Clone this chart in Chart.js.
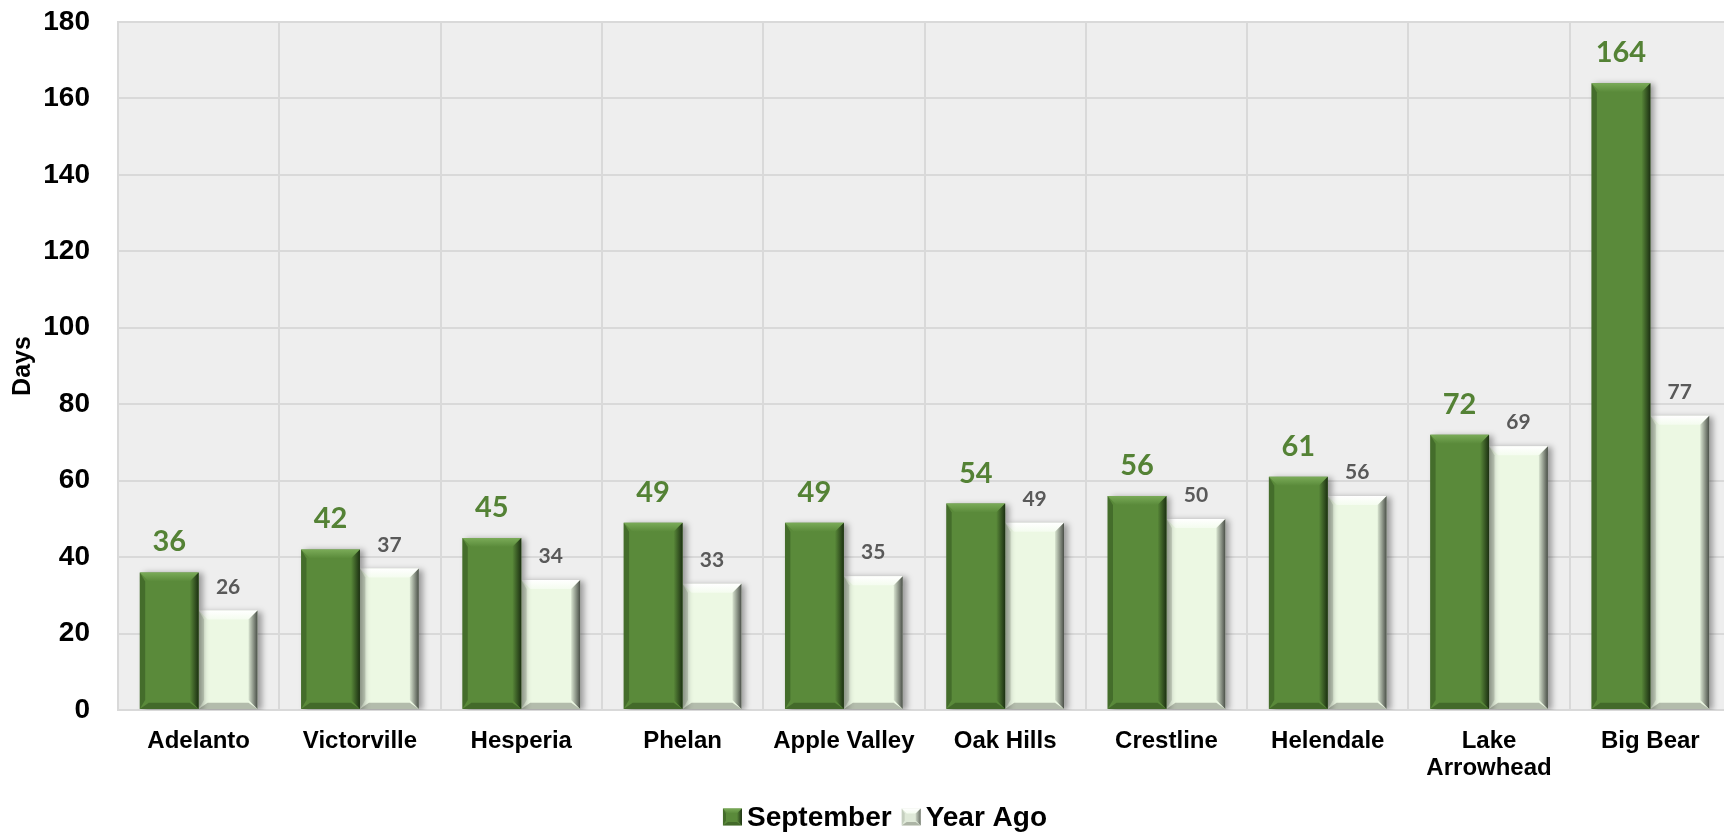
<!DOCTYPE html>
<html>
<head>
<meta charset="utf-8">
<script src="https://cdn.jsdelivr.net/npm/chart.js@4/dist/chart.umd.min.js"></script>
<style>
  html, body { margin: 0; padding: 0; background: #ffffff; overflow: hidden; }
  #wrap { width: 1724px; height: 834px; overflow: hidden; position: relative; }
  canvas { display: block; }
</style>
</head>
<body>
<div id="wrap"><canvas id="daysChart" width="1740" height="834"></canvas></div>
<script>
// Chart data
const towns = ['Adelanto', 'Victorville', 'Hesperia', 'Phelan', 'Apple Valley', 'Oak Hills',
               'Crestline', 'Helendale', ['Lake', 'Arrowhead'], 'Big Bear'];
const september = [36, 42, 45, 49, 49, 54, 56, 61, 72, 164];
const yearAgo = [26, 37, 34, 33, 35, 49, 50, 56, 69, 77];
const seriesNames = ['September', 'Year Ago'];
const yTicks = { min: 0, max: 180, step: 20 };

const axisFont = '"Liberation Sans", Arial, sans-serif';
const labelFont = 'Lato, "Open Sans", sans-serif';

// colours for the bevelled bars
const looks = [
    { base: '#5a8a3a', top: ['#7aab58', '#5a8a3a'], left: 'rgba(30,55,18,0.35)',
      right: ['#5a8a3a', '#1c3012'], bottom: 'rgba(25,45,15,0.35)',
      label: '#548235', labelSize: 29, labelGap: 21 },
    { base: '#ecf8e3', top: ['#ffffff', '#f4fcef'], left: 'rgba(120,130,115,0.25)',
      right: ['#d8e4d0', '#4a4f48'], bottom: 'rgba(110,115,105,0.45)',
      label: '#595959', labelSize: 21, labelGap: 17 }
];

function bevel(ctx, l, t, r, b, look, size) {
    const s = Math.min(size, (r - l) / 2, (b - t) / 2);
    // top
    let g = ctx.createLinearGradient(0, t, 0, t + s);
    g.addColorStop(0, look.top[0]);
    g.addColorStop(1, look.top[1]);
    ctx.fillStyle = g;
    ctx.beginPath();
    ctx.moveTo(l, t); ctx.lineTo(r, t); ctx.lineTo(r - s, t + s); ctx.lineTo(l + s, t + s);
    ctx.closePath(); ctx.fill();
    // left
    ctx.fillStyle = look.left;
    ctx.beginPath();
    ctx.moveTo(l, t); ctx.lineTo(l + s * 0.6, t + s); ctx.lineTo(l + s * 0.6, b - s); ctx.lineTo(l, b);
    ctx.closePath(); ctx.fill();
    // right
    g = ctx.createLinearGradient(r - s, 0, r, 0);
    g.addColorStop(0, look.right[0]);
    g.addColorStop(1, look.right[1]);
    ctx.fillStyle = g;
    ctx.beginPath();
    ctx.moveTo(r, t); ctx.lineTo(r, b); ctx.lineTo(r - s, b - s); ctx.lineTo(r - s, t + s);
    ctx.closePath(); ctx.fill();
    // bottom
    ctx.fillStyle = look.bottom;
    ctx.beginPath();
    ctx.moveTo(l, b); ctx.lineTo(r, b); ctx.lineTo(r - s, b - s * 0.7); ctx.lineTo(l + s, b - s * 0.7);
    ctx.closePath(); ctx.fill();
}

// grey plot background
const plotBackground = {
    id: 'plotBackground',
    beforeDraw(chart) {
        const { ctx, chartArea } = chart;
        ctx.save();
        ctx.fillStyle = '#eeeeee';
        ctx.fillRect(chartArea.left, chartArea.top, chartArea.width, chartArea.height);
        ctx.restore();
    }
};

// soft shadow + bevel on each bar
const bevelBars = {
    id: 'bevelBars',
    beforeDatasetDraw(chart, args) {
        const ctx = chart.ctx;
        ctx.save();
        ctx.shadowColor = 'rgba(0,0,0,0.35)';
        ctx.shadowBlur = 6;
        ctx.shadowOffsetX = 4;
        ctx.shadowOffsetY = 1;
    },
    afterDatasetDraw(chart, args) {
        const ctx = chart.ctx;
        ctx.restore();
        const look = looks[args.index];
        ctx.save();
        args.meta.data.forEach(bar => {
            const l = bar.x - bar.width / 2;
            const r = bar.x + bar.width / 2;
            bevel(ctx, l, bar.y, r, bar.base, look, 9);
        });
        ctx.restore();
    }
};

// value labels above bars
const valueLabels = {
    id: 'valueLabels',
    afterDatasetsDraw(chart) {
        const ctx = chart.ctx;
        ctx.save();
        ctx.textAlign = 'center';
        ctx.textBaseline = 'alphabetic';
        chart.data.datasets.forEach((ds, i) => {
            const look = looks[i];
            ctx.fillStyle = look.label;
            ctx.font = `bold ${look.labelSize}px ${labelFont}`;
            chart.getDatasetMeta(i).data.forEach((bar, j) => {
                ctx.fillText(ds.data[j], bar.x, bar.y - look.labelGap);
            });
        });
        ctx.restore();
    }
};

// legend drawn by hand so it can sit where the original one is
const sideLegend = {
    id: 'sideLegend',
    afterDraw(chart) {
        const ctx = chart.ctx;
        ctx.save();
        ctx.font = `bold 28px ${axisFont}`;
        ctx.textBaseline = 'middle';
        const boxW = 19, boxH = 17, gap = 5, spacing = 10;
        const widths = seriesNames.map(n => boxW + gap + ctx.measureText(n).width);
        const total = widths.reduce((a, b) => a + b, 0) + spacing;
        let x = 885 - total / 2;
        const y = 817;
        seriesNames.forEach((name, i) => {
            const look = looks[i];
            ctx.fillStyle = i === 0 ? look.base : '#dfe9d8';
            ctx.fillRect(x, y - boxH / 2, boxW, boxH);
            bevel(ctx, x, y - boxH / 2, x + boxW, y + boxH / 2,
                  i === 0 ? looks[0] : Object.assign({}, look, { right: ['#c9d3c3', '#6c7268'] }), 5);
            ctx.fillStyle = '#000000';
            ctx.fillText(name, x + boxW + gap, y + 1);
            x += widths[i] + spacing;
        });
        ctx.restore();
    }
};

const ctx = document.getElementById('daysChart').getContext('2d');
new Chart(ctx, {
    type: 'bar',
    data: {
        labels: towns,
        datasets: [
            { label: seriesNames[0], data: september, backgroundColor: looks[0].base,
              borderWidth: 0, barPercentage: 1, categoryPercentage: 0.73 },
            { label: seriesNames[1], data: yearAgo, backgroundColor: looks[1].base,
              borderWidth: 0, barPercentage: 1, categoryPercentage: 0.73 }
        ]
    },
    options: {
        responsive: false,
        animation: false,
        devicePixelRatio: 1,
        layout: { padding: { top: 22, right: 9, bottom: 0, left: 0 } },
        plugins: {
            legend: { display: false },
            tooltip: { enabled: false }
        },
        scales: {
            x: {
                grid: { color: '#d9d9d9', lineWidth: 2, drawTicks: false },
                border: { color: '#d9d9d9', width: 2 },
                ticks: {
                    color: '#000000',
                    padding: 18,
                    maxRotation: 0,
                    autoSkip: false,
                    font: { family: axisFont, size: 24, weight: 'bold', lineHeight: 1.13 }
                },
                afterFit(scale) { scale.height = 124; }
            },
            y: {
                min: yTicks.min,
                max: yTicks.max,
                grid: { color: '#d9d9d9', lineWidth: 2, drawTicks: true, tickLength: 25,
                        tickColor: 'rgba(0,0,0,0)' },
                border: { color: '#d9d9d9', width: 2 },
                ticks: {
                    stepSize: yTicks.step,
                    color: '#000000',
                    padding: 3,
                    font: { family: axisFont, size: 28, weight: 'bold' }
                },
                title: {
                    display: true,
                    text: 'Days',
                    color: '#000000',
                    padding: { top: 8, bottom: 0 },
                    font: { family: axisFont, size: 25, weight: 'bold' }
                },
                afterFit(scale) { scale.width = 118; }
            }
        }
    },
    plugins: [plotBackground, bevelBars, valueLabels, sideLegend]
});
</script>
</body>
</html>
